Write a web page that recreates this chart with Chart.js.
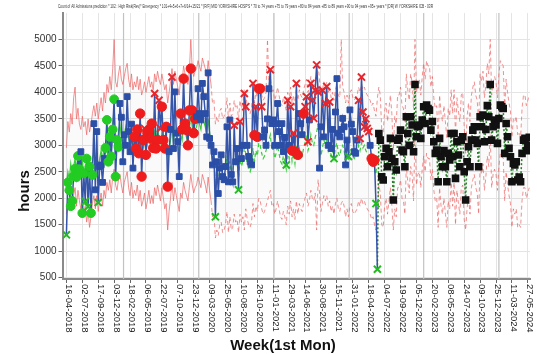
<!DOCTYPE html>
<html>
<head>
<meta charset="utf-8">
<script src="https://cdn.jsdelivr.net/npm/chart.js@4.4.1/dist/chart.umd.min.js"></script>
<style>
    html, body { margin: 0; padding: 0; background: #fff; }
    canvas { display: block; }
</style>
</head>
<body>
<canvas id="chart" width="537" height="354"></canvas>
<script>
// Texts
const chartTitle = "Count of All Admissions prediction * 102 : High Risk(Rev)* Emergency * 101+4+5+6+7+6/14+15/21 * [R/F] MID YORKSHIRE HOSP'S * 70 to 74 years +75 to 79 years +80 to 84 years +85 to 89 years +90 to 94 years +95+ years * [DR] W YORKSHIRE ICB - 03R";
const yTitle = 'hours';
const xTitle = 'Week(1st Mon)';

// x tick labels, one every 11 weeks (week 0 = 16-04-2018)
const tickLabels = [
    '16-04-2018', '02-07-2018', '17-09-2018', '03-12-2018', '18-02-2019', '06-05-2019',
    '22-07-2019', '07-10-2019', '23-12-2019', '09-03-2020', '25-05-2020', '10-08-2020',
    '26-10-2020', '11-01-2021', '29-03-2021', '14-06-2021', '30-08-2021', '15-11-2021',
    '31-01-2022', '18-04-2022', '04-07-2022', '19-09-2022', '05-12-2022', '20-02-2023',
    '08-05-2023', '24-07-2023', '09-10-2023', '25-12-2023', '11-03-2024', '27-05-2024'
];
const tickEvery = 11;
const yTicks = [500, 1000, 1500, 2000, 2500, 3000, 3500, 4000, 4500, 5000];

// darker vertical lines (week positions)
const yearLines = [39.5, 91.5, 143.5, 195.5, 247, 299];

// actual weekly values, weeks 0..215
const actual = [
    1310, 2300, 2150, 1850, 1950, 2420, 2560, 2400, 2800, 2550,
    2880, 1720, 2470, 1940, 2750, 1840, 2600, 1720, 2440, 3410,
    2160, 3260, 1920, 2600, 2630, 2300, 2750, 2950, 3480, 2690,
    3160, 2790, 3300, 3870, 2410, 3100, 2970, 3790, 3530, 2690,
    3200, 3000, 3920, 3260, 2880, 3400, 2570, 3160, 2940, 3300,
    2850, 3600, 2410, 3100, 3320, 2820, 3230, 3290, 3130, 3410,
    2950, 3980, 2940, 3100, 3850, 3320, 3730, 3100, 2940, 3350,
    2220, 2880, 3300, 4290, 2940, 4010, 3230, 3070, 2410, 3600,
    3300, 4260, 3410, 3290, 3000, 3660, 4450, 3660, 3230, 3500,
    3540, 4070, 3600, 3480, 4170, 3920, 3600, 3160, 4370, 3130,
    3000, 2630, 2880, 1650, 2690, 2090, 2570, 2820, 2410, 2350,
    2600, 3350, 2310, 3480, 2450, 2310, 3380, 2690, 2940, 2160,
    3450, 2750, 3000, 3980, 3730, 3000, 2790, 2690, 2630, 4170,
    3190, 3730, 3160, 4070, 4070, 3730, 3160, 3290, 3000, 3500,
    4070, 4430, 3410, 3480, 3000, 3410, 3790, 3260, 3000, 3410,
    2880, 3150, 2630, 3850, 3000, 3730, 2900, 3230, 2880, 4170,
    2820, 3600, 3410, 3200, 3600, 3730, 3920, 3070, 3480, 4170,
    3850, 3510, 4040, 4520, 4010, 2570, 3350, 4040, 3160, 3790,
    4110, 3000, 3820, 2940, 3300, 2750, 3630, 4260, 3230, 3160,
    3300, 3510, 3350, 2630, 3100, 2790, 3670, 3400, 3260, 2880,
    2850, 3100, 3850, 3130, 4290, 3630, 3350, 3500, 3320, 3260,
    3000, 2750, 2690, 2720, 1900, 660
];
// marker per actual point: n normal, h high run, l low run, H above limit, L below limit
const flags = (
    'Llllllllll' + 'nllLlLllln' + 'nnLnnnnlll' + 'lllllllnnn' + 'nnnnnnnhhh' +
    'hhhhHhhhhh' + 'hHhhHHhhhh' + 'hnnHnnnnnh' + 'hhhhhhhhhh' + 'nnnnnnnnnn' +
    'nnnLnnnnnn' + 'nnnnnnHnnL' + 'HnnHHnnnnH' + 'hHhhhHnnnn' + 'nHnnnnnnnn' +
    'nnLHnHhHhH' + 'hnnnhHHHnH' + 'HHHHHnnHnH' + 'HnHnnLnnnn' + 'nnnnnLnnnn' +
    'nnHHHHHHHH' + 'nhhhLL'
).split('');

// prediction, weeks 216..320
const forecastStart = 216;
const forecast = [
    3225, 3099, 2407, 2345, 2785, 2942, 2596, 2879, 3131, 2750,
    1967, 2690, 2533, 3099, 3131, 3288, 2911, 2879, 2596, 3540,
    3225, 3000, 3540, 3383, 2879, 4150, 3162, 3351, 3383, 3131,
    3477, 3728, 3414, 3760, 3697, 3665, 3288, 3450, 3068, 2848,
    2911, 2313, 3131, 2785, 2596, 2900, 2596, 2313, 2848, 2722,
    3225, 2785, 3225, 2376, 3068, 2816, 2596, 3099, 3162, 2500,
    1967, 2690, 2974, 2596, 3099, 3288, 3351, 3099, 3037, 2596,
    3540, 3351, 3571, 3068, 3300, 3750, 3540, 4150, 3099, 3351,
    3477, 3383, 3037, 3508, 3760, 3728, 3697, 2848, 3414, 3162,
    2942, 2785, 2313, 2659, 2628, 2690, 2345, 2400, 2313, 2848,
    3099, 3131, 2900, 3000, 3150
];

// model fit, weeks 0..215
const fit = [
    2250, 2500, 2350, 2650, 2450, 2600, 2750, 2500, 2800, 2650,
    2550, 2700, 2450, 2600, 2400, 2550, 2350, 2500, 2700, 2900,
    2600, 2850, 2550, 2750, 2900, 2700, 3000, 2850, 3150, 3000,
    3200, 2950, 3300, 3750, 3100, 3000, 3250, 3400, 3150, 3050,
    3200, 3350, 3450, 3150, 3000, 3250, 2950, 3100, 3000, 3200,
    2950, 3150, 2850, 2950, 3100, 2900, 3050, 3200, 3000, 3100,
    2950, 3250, 3100, 3300, 3150, 3050, 3250, 3100, 2950, 3050,
    2700, 2900, 3100, 3350, 3050, 3300, 3150, 3000, 2850, 3200,
    3100, 3400, 3250, 3150, 3050, 3300, 3600, 3350, 3200, 3300,
    3350, 3500, 3400, 3300, 3550, 3450, 3350, 3200, 3500, 3250,
    3050, 2700, 2750, 2300, 2450, 2350, 2550, 2600, 2400, 2450,
    2550, 2800, 2400, 2700, 2450, 2500, 2750, 2600, 2650, 2400,
    2750, 2600, 2700, 2950, 2850, 2650, 2550, 2500, 2600, 2950,
    2700, 2900, 2800, 3050, 3000, 2850, 2750, 2800, 2900, 3000,
    3100, 3200, 2900, 2950, 2750, 2850, 3000, 2850, 2700, 2650,
    2800, 2700, 2550, 2900, 2750, 3000, 2700, 2850, 2650, 3000,
    2750, 2950, 2850, 2800, 2950, 3050, 3150, 2900, 3000, 3200,
    3050, 3000, 3150, 3250, 3400, 3150, 2800, 2950, 3100, 3000,
    3100, 2900, 3000, 2800, 2900, 2750, 2950, 3050, 2850, 2800,
    2950, 3000, 2900, 2700, 2850, 2700, 2900, 2950, 2800, 2750,
    2800, 2850, 3000, 2900, 3050, 2950, 3000, 2900, 2850, 2800,
    2750, 2650, 2700, 2550, 2450, 2800
];

// control limits, weeks 0..320
const upper = [
    2950, 3450, 3250, 3600, 3400, 3900, 4100, 3500, 3700, 3400,
    3300, 3550, 3350, 3450, 3200, 3500, 3250, 3400, 3600, 3750,
    3550, 3800, 3500, 3700, 3900, 3650, 4000, 3800, 4150, 4000,
    4300, 4050, 4450, 5000, 4200, 4100, 4350, 4500, 4250, 4150,
    4300, 4450, 4550, 4250, 4100, 4350, 4050, 4200, 4100, 4300,
    4050, 4250, 3950, 4050, 4200, 4000, 4150, 4300, 4100, 4200,
    4050, 4350, 4200, 4400, 4250, 4150, 4350, 4200, 4050, 4150,
    3800, 4000, 4200, 4450, 4150, 4400, 4250, 4100, 3950, 4300,
    4200, 4500, 4350, 4250, 4150, 4400, 5000, 4450, 4300, 4400,
    4450, 4600, 4500, 4400, 4650, 4550, 4450, 4300, 4600, 4350,
    4150, 3800, 3850, 3400, 3550, 3450, 3650, 3700, 3500, 3550,
    3650, 3900, 3500, 3800, 3550, 3600, 3850, 3700, 3750, 3500,
    3850, 3700, 3800, 4050, 3950, 3750, 3650, 3600, 3700, 4050,
    3800, 4000, 3900, 4150, 4100, 3950, 3850, 3900, 4000, 5000,
    4200, 4300, 4000, 4050, 3850, 3950, 4100, 3950, 3800, 3750,
    3900, 3800, 3650, 4000, 3850, 4100, 3800, 3950, 3750, 4100,
    3850, 4050, 3950, 3900, 4050, 4150, 4250, 4000, 4100, 4300,
    4150, 4100, 4250, 4350, 4500, 4250, 3900, 4050, 4200, 4100,
    4200, 4000, 4100, 3900, 4000, 3850, 4050, 4150, 3950, 3900,
    5000, 4100, 4000, 3800, 3950, 3800, 4000, 4050, 3900, 3850,
    3900, 3950, 4100, 4000, 4150, 4050, 4100, 4000, 3950, 3900,
    3850, 3750, 3800, 3650, 3550, 3900, 4100, 3950, 3300, 3250,
    3650, 3800, 3450, 3700, 3950, 3600, 2900, 3550, 3400, 3950,
    3950, 4100, 3750, 3700, 3450, 4350, 4050, 3850, 4350, 4200,
    3700, 5000, 4000, 4200, 4250, 3950, 4300, 4550, 4250, 4600,
    4500, 4500, 4100, 4300, 3900, 3700, 3750, 3150, 3950, 3600,
    3450, 3750, 3450, 3150, 3700, 3550, 4050, 3600, 4050, 3200,
    3900, 3650, 3450, 3950, 4000, 3350, 2850, 3550, 3800, 3450,
    3950, 4100, 4200, 3950, 3850, 3450, 4350, 4200, 4400, 3900,
    4150, 4550, 4350, 5000, 3950, 4200, 4300, 4200, 3900, 4350,
    4600, 4550, 4500, 3700, 4250, 4000, 3800, 3650, 3150, 3500,
    3450, 3550, 3200, 3250, 3150, 3700, 3950, 3950, 3750, 3850,
    3950
];
const lower = [
    1700, 2000, 1850, 2100, 1900, 2050, 2200, 1850, 2150, 1950,
    1800, 1950, 1700, 1850, 1550, 1750, 1450, 1650, 1900, 2050,
    1800, 2050, 1750, 1950, 2100, 1850, 2150, 2000, 2300, 2150,
    2350, 2100, 2400, 2550, 2250, 2150, 2350, 2450, 2250, 2100,
    2300, 2400, 2500, 2200, 2050, 2300, 2000, 2150, 2050, 2250,
    1950, 2150, 1850, 1950, 2100, 1800, 1950, 2150, 1900, 2050,
    1900, 2200, 2050, 2250, 2100, 1950, 2200, 2000, 1800, 1900,
    1400, 1750, 2000, 2300, 1950, 2200, 2050, 1900, 1750, 2100,
    2000, 2300, 2150, 2050, 1950, 2200, 2450, 2250, 2100, 2200,
    2250, 2400, 2300, 2200, 2450, 2350, 2250, 2100, 2400, 2150,
    1950, 1650, 1700, 1250, 1400, 1300, 1500, 1550, 1350, 1400,
    1500, 1750, 1350, 1650, 1400, 1450, 1700, 1550, 1600, 1350,
    1700, 1550, 1650, 1400, 1800, 1600, 1500, 1450, 1550, 1900,
    1650, 1850, 1750, 2000, 1950, 1800, 1700, 1750, 1850, 1950,
    2050, 2150, 1850, 1900, 1700, 1800, 1950, 1800, 1650, 1600,
    1750, 1650, 1500, 1850, 1700, 1950, 1650, 1800, 1600, 1950,
    1700, 1900, 1800, 1750, 1900, 2000, 2100, 1850, 1950, 2150,
    2000, 1950, 2100, 1400, 2350, 2100, 1750, 1900, 2050, 1950,
    2050, 1850, 1950, 1750, 1850, 1700, 1900, 2000, 1800, 1750,
    1900, 1950, 1850, 1650, 1800, 1650, 1850, 1900, 1750, 1700,
    1750, 1800, 1950, 1850, 2000, 1900, 1950, 1850, 1800, 1750,
    1700, 1600, 1650, 1500, 1400, 1750, 2250, 2100, 1500, 1450,
    1850, 2000, 1700, 1950, 2200, 1850, 1400, 1800, 1650, 2200,
    2200, 2350, 2000, 1950, 1700, 2600, 2300, 2100, 2600, 2450,
    1950, 3200, 2250, 2450, 2500, 2200, 2550, 2800, 2500, 2850,
    2750, 2750, 2350, 2550, 2150, 1950, 2000, 1450, 2200, 1850,
    1700, 2000, 1700, 1450, 1950, 1800, 2300, 1850, 2300, 1500,
    2150, 1900, 1700, 2200, 2250, 1600, 1400, 1800, 2050, 1700,
    2200, 2350, 2450, 2200, 2100, 1700, 2600, 2450, 2650, 2150,
    2400, 2800, 2600, 3200, 2200, 2450, 2550, 2450, 2150, 2600,
    2850, 2800, 2750, 1950, 2500, 2250, 2050, 1900, 1450, 1800,
    1700, 1800, 1450, 1500, 1450, 1950, 2200, 2200, 2000, 2100,
    2200
];
const dashFrom = 100; // limits and fit are dashed from here on

// marker look per flag
const markerStyle = { n: 'rect', h: 'circle', l: 'circle', H: 'crossRot', L: 'crossRot' };
const markerColor = { n: '#2b4ea6', h: '#ee1c1c', l: '#22cc22', H: '#e8262c', L: '#22bb22' };
const markerSize = { n: 4.1, h: 4.7, l: 4.4, H: 5, L: 5 };
const markerLine = { n: 1, h: 1, l: 1, H: 2, L: 2 };

const toPoints = (arr, start) => arr.map((v, i) => ({ x: start + i, y: v }));
const dashed = c => c.p0DataIndex >= dashFrom ? [4, 3] : undefined;

// Extra drawing: background, year lines, rotated tick labels, titles
const extras = {
    id: 'extras',
    beforeDraw(chart) {
        const ctx = chart.ctx;
        ctx.save();
        ctx.fillStyle = '#fff';
        ctx.fillRect(0, 0, chart.width, chart.height);
        ctx.restore();
    },
    beforeDatasetsDraw(chart) {
        const { ctx, chartArea, scales: { x } } = chart;
        ctx.save();
        ctx.strokeStyle = '#c2c2c2';
        ctx.lineWidth = 1.2;
        yearLines.forEach(w => {
            const px = x.getPixelForValue(w);
            ctx.beginPath();
            ctx.moveTo(px, chartArea.top);
            ctx.lineTo(px, chartArea.bottom);
            ctx.stroke();
        });
        ctx.restore();
    },
    afterDraw(chart) {
        const { ctx, chartArea, scales: { x } } = chart;
        ctx.save();
        ctx.fillStyle = '#333';
        ctx.font = '6px "Liberation Sans"';
        ctx.textBaseline = 'middle';
        ctx.fillText(chartTitle, 58, 6, 375);

        ctx.font = '9.5px "Liberation Sans"';
        ctx.fillStyle = '#222';
        ctx.textAlign = 'left';
        tickLabels.forEach((t, i) => {
            const px = x.getPixelForValue(i * tickEvery);
            ctx.save();
            ctx.translate(px + 2, chartArea.bottom + 5);
            ctx.rotate(Math.PI / 2);
            ctx.fillText(t, 0, 0);
            ctx.restore();
        });

        ctx.font = 'bold 15px "Liberation Sans"';
        ctx.fillStyle = '#111';
        ctx.textAlign = 'center';
        ctx.fillText(xTitle, 283, 346);
        ctx.translate(25, 191);
        ctx.rotate(-Math.PI / 2);
        ctx.fillText(yTitle, 0, 0);
        ctx.restore();
    }
};

new Chart(document.getElementById('chart'), {
    type: 'line',
    data: {
        datasets: [
            {
                label: 'Actual',
                data: toPoints(actual, 0),
                borderColor: '#3555a8',
                borderWidth: 1.5,
                pointStyle: flags.map(f => markerStyle[f]),
                pointRadius: flags.map(f => markerSize[f]),
                pointBackgroundColor: flags.map(f => markerColor[f]),
                pointBorderColor: flags.map(f => markerColor[f]),
                pointBorderWidth: flags.map(f => markerLine[f]),
                order: 0
            },
            {
                label: 'Prediction',
                data: [{ x: forecastStart - 1, y: actual[actual.length - 1] }].concat(toPoints(forecast, forecastStart)),
                borderColor: '#2a7f2a',
                borderWidth: 1.5,
                borderDash: [2, 2],
                pointStyle: 'rect',
                pointRadius: c => c.dataIndex === 0 ? 0 : 4.3,
                pointBackgroundColor: '#111',
                pointBorderColor: '#111',
                order: 1
            },
            {
                label: 'Fit',
                data: toPoints(fit, 0),
                borderColor: '#3ccc3c',
                borderWidth: 1.2,
                pointRadius: 0,
                segment: { borderDash: dashed },
                order: 2
            },
            {
                label: 'Upper',
                data: toPoints(upper, 0),
                borderColor: 'rgba(238, 100, 100, 0.7)',
                borderWidth: 1,
                pointRadius: 0,
                fill: '+1',
                backgroundColor: 'rgba(0, 0, 0, 0.02)',
                segment: { borderDash: dashed },
                order: 3
            },
            {
                label: 'Lower',
                data: toPoints(lower, 0),
                borderColor: 'rgba(238, 100, 100, 0.7)',
                borderWidth: 1,
                pointRadius: 0,
                segment: { borderDash: dashed },
                order: 4
            }
        ]
    },
    options: {
        responsive: false,
        animation: false,
        devicePixelRatio: 1,
        layout: { padding: { top: 13, right: 0, bottom: 0, left: 0 } },
        plugins: {
            legend: { display: false },
            tooltip: { enabled: false }
        },
        scales: {
            x: {
                type: 'linear',
                min: -2.7,
                max: 320.5,
                afterBuildTicks: s => { s.ticks = tickLabels.map((t, i) => ({ value: i * tickEvery })); },
                afterFit: s => { s.height = 75; },
                ticks: { display: false },
                grid: { color: '#e4e4e4', lineWidth: 1, drawTicks: true, tickLength: 4, tickColor: '#666' },
                border: { color: '#8a8a8a', width: 2 }
            },
            y: {
                min: 475,
                max: 5500,
                afterBuildTicks: s => { s.ticks = yTicks.map(v => ({ value: v })); },
                afterFit: s => { s.width = 62.5; },
                ticks: {
                    font: { family: 'Liberation Sans', size: 10 },
                    color: '#333',
                    padding: 2,
                    callback: v => String(v)
                },
                grid: { color: '#e4e4e4', lineWidth: 1, drawTicks: true, tickLength: 4, tickColor: '#666' },
                border: { color: '#8a8a8a', width: 2 }
            }
        }
    },
    plugins: [extras]
});
</script>
</body>
</html>
